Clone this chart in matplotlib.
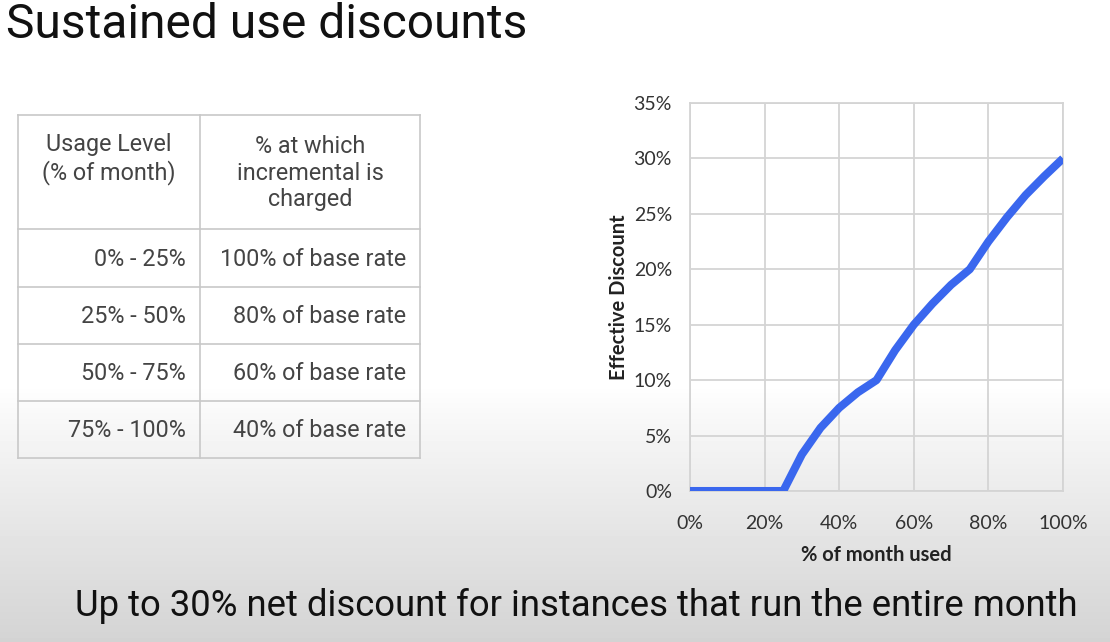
# Sustained use discounts slide: table + effective discount curve

import numpy as np
import matplotlib.pyplot as plt
from matplotlib.ticker import FuncFormatter

# data
usage_pct = [0, 5, 10, 15, 20, 25, 30, 35, 40, 45, 50,
             55, 60, 65, 70, 75, 80, 85, 90, 95, 100]
discount_pct = [0, 0, 0, 0, 0, 0, 3.3, 5.7, 7.5, 8.9, 10,
                12.7, 15, 16.9, 18.6, 20, 22.5, 24.7, 26.7, 28.4, 30]
x_ticks = [0, 20, 40, 60, 80, 100]
y_ticks = [0, 5, 10, 15, 20, 25, 30, 35]

header = ['Usage Level\n(% of month)', '% at which\nincremental is\ncharged']
usage_levels = ['0% - 25%', '25% - 50%', '50% - 75%', '75% - 100%']
charge_rates = ['100% of base rate', '80% of base rate',
                '60% of base rate', '40% of base rate']

W, H = 1110, 642
fig = plt.figure(figsize=(W / 100, H / 100), dpi=100)

# background gradient (white at top, grey at bottom)
bg = fig.add_axes([0, 0, 1, 1])
rows = np.linspace(0, 1, H)
shade = np.where(rows < 0.6, 1.0, 1.0 - 0.17 * ((rows - 0.6) / 0.4) ** 0.9)
bg.imshow(shade[:, None], cmap='gray', vmin=0, vmax=1, aspect='auto',
          extent=[0, W, H, 0])
bg.set_xlim(0, W)
bg.set_ylim(H, 0)
bg.axis('off')

# title + caption
bg.text(6, 25, 'Sustained use discounts', fontsize=34.5, family='Roboto',
        color='#111111', va='center', ha='left')
bg.text(576, 606, 'Up to 30% net discount for instances that run the entire month',
        fontsize=26.3, family='Roboto', color='#111111', va='center', ha='center')

# table
tx0, tx1, tx2 = 18, 200, 420
row_edges = [115, 229, 287, 344, 401, 458]
grid_col = '#c8c8c8'
for y in row_edges:
    bg.plot([tx0, tx2], [y, y], color=grid_col, lw=1.2)
for x in (tx0, tx1, tx2):
    bg.plot([x, x], [row_edges[0], row_edges[-1]], color=grid_col, lw=1.2)

txt_col = '#444444'
fs = 16.8
bg.text((tx0 + tx1) / 2, 159, header[0], fontsize=fs, family='Roboto',
        color=txt_col, ha='center', va='center', linespacing=1.2)
bg.text((tx1 + tx2) / 2, 173, header[1], fontsize=fs, family='Roboto',
        color=txt_col, ha='center', va='center', linespacing=1.2)
for i, (lvl, rate) in enumerate(zip(usage_levels, charge_rates)):
    yc = (row_edges[i + 1] + row_edges[i + 2]) / 2 + 1
    bg.text(tx1 - 14, yc, lvl, fontsize=fs, family='Roboto', color=txt_col,
            ha='right', va='center')
    bg.text(tx2 - 14, yc, rate, fontsize=fs, family='Roboto', color=txt_col,
            ha='right', va='center')

# chart
ax = fig.add_axes([690 / W, 1 - 491 / H, (1063 - 690) / W, (491 - 103) / H])
ax.plot(usage_pct, discount_pct, color='#3a67ee', lw=5.8,
        solid_capstyle='butt', solid_joinstyle='round', zorder=3)
ax.set_xlim(0, 100)
ax.set_ylim(0, 35)
ax.set_xticks(x_ticks)
ax.set_yticks(y_ticks)
pct = FuncFormatter(lambda v, _: f'{v:.0f}%')
ax.xaxis.set_major_formatter(pct)
ax.yaxis.set_major_formatter(pct)
ax.set_facecolor('none')
ax.grid(True, color='#d4d4d4', lw=1.3)
for s in ax.spines.values():
    s.set_color('#d4d4d4')
    s.set_linewidth(1.3)
ax.tick_params(axis='y', length=0, labelsize=14, colors='#333333', pad=13)
ax.tick_params(axis='x', length=0, labelsize=14, colors='#333333', pad=17)
for lab in ax.get_xticklabels() + ax.get_yticklabels():
    lab.set_family('Lato')
ax.set_xlabel('% of month used', fontsize=14.5, fontweight='bold',
              family='Lato', color='#222222', labelpad=9.5)
ax.set_ylabel('Effective Discount', fontsize=14.5, fontweight='bold',
              family='Lato', color='#222222', labelpad=3.5)

fig.savefig('out.png', dpi=100)
